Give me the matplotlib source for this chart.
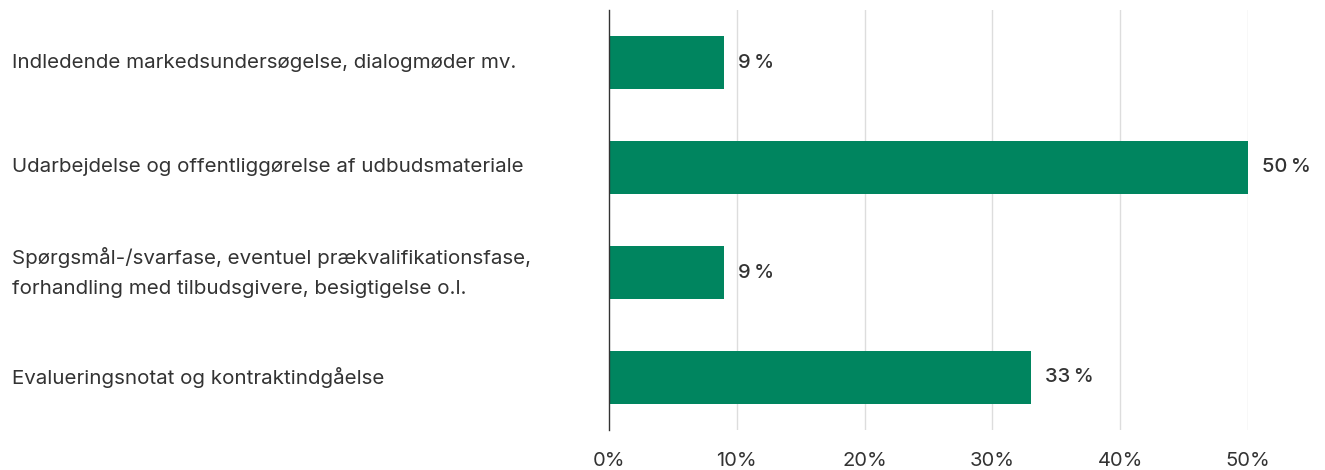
import matplotlib
matplotlib.use("Agg")
import matplotlib.pyplot as plt
import matplotlib.transforms as mtransforms

categories = [
    "Indledende markedsundersøgelse, dialogmøder mv.",
    "Udarbejdelse og offentliggørelse af udbudsmateriale",
    "Spørgsmål-/svarfase, eventuel prækvalifikationsfase,\nforhandling med tilbudsgivere, besigtigelse o.l.",
    "Evalueringsnotat og kontraktindgåelse",
]
values = [9, 50, 9, 33]
value_labels = ["9\u2009%", "50\u2009%", "9\u2009%", "33\u2009%"]
xticks = [0, 10, 20, 30, 40, 50]
xticklabels = ["0%", "10%", "20%", "30%", "40%", "50%"]

plt.rcParams['font.family'] = ['Inter', 'DejaVu Sans']
text_color = "#333333"
bar_color = "#00855f"

fig = plt.figure(figsize=(13.25, 4.7), dpi=100)
ax = fig.add_axes([609/1325, 1 - 430/470, (1248-609)/1325, 420/470])

ypos = list(range(len(categories)))
ax.barh(ypos, values, height=0.5, color=bar_color, zorder=3)
ax.set_ylim(len(categories) - 0.5, -0.5)
ax.set_xlim(0, 50)

for y, v, lab in zip(ypos, values, value_labels):
    ax.annotate(lab, xy=(v, y), xytext=(10, 0), textcoords="offset points",
                va="center", ha="left", fontsize=14.5, fontweight="medium",
                color=text_color, annotation_clip=False)

trans = mtransforms.blended_transform_factory(fig.transFigure, ax.transData)
for y, c in zip(ypos, categories):
    ax.text(12/1325, y, c, transform=trans,
            fontsize=14.8, color=text_color, va="center", ha="left", linespacing=1.85)

ax.set_yticks([])
ax.set_xticks(xticks)
ax.set_xticklabels(xticklabels, fontsize=14.5, color=text_color)
ax.tick_params(axis="x", length=0, pad=16)
for x in xticks[1:]:
    ax.axvline(x, color="#dddddd", linewidth=1, zorder=1)
for s in ["top", "right", "bottom"]:
    ax.spines[s].set_visible(False)
ax.spines["left"].set_color("#333333")
ax.spines["left"].set_linewidth(1)
ax.spines["left"].set_zorder(4)

fig.savefig("out.png", dpi=100)
